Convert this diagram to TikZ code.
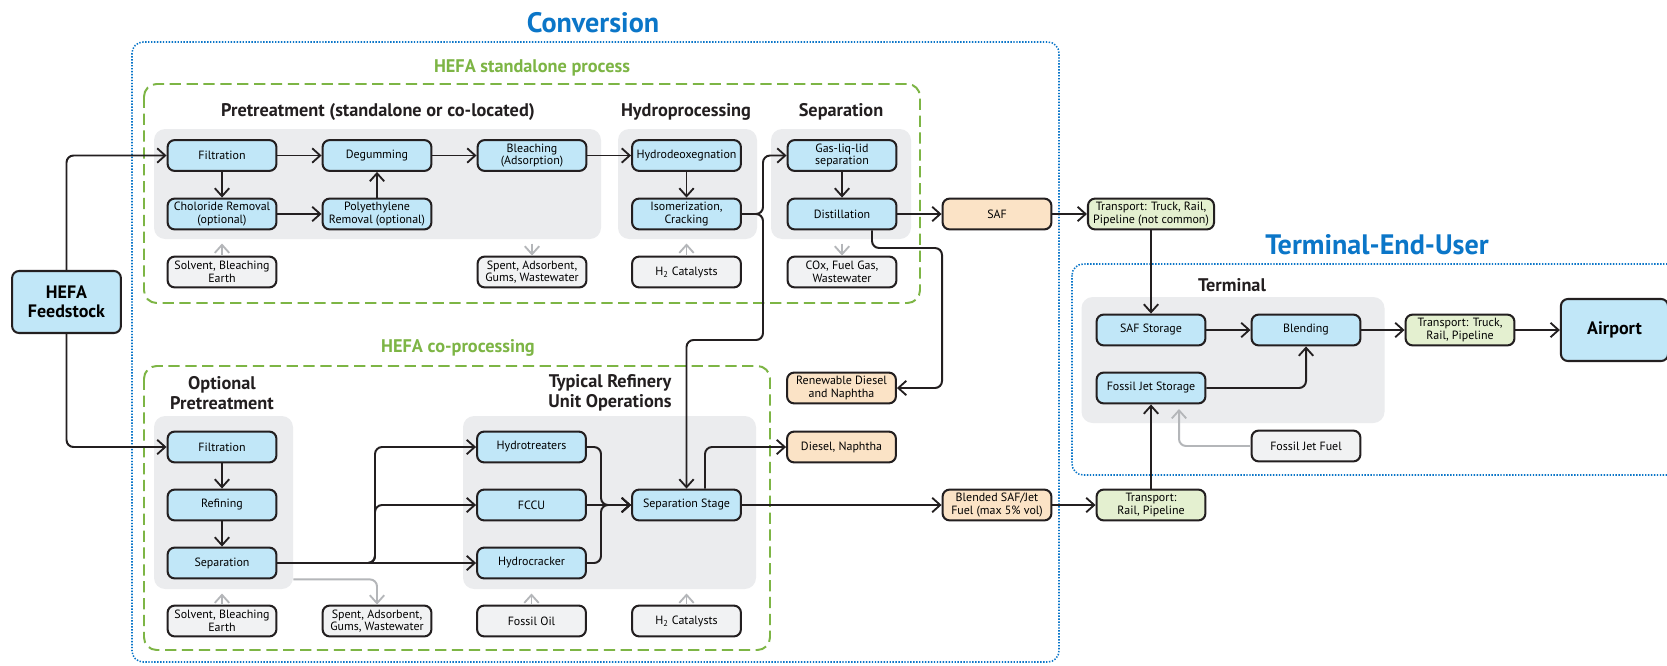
\documentclass[tikz,border=0pt]{standalone}
\usepackage{fontspec}
\setmainfont{PT Sans}
\usepackage{tikz}
\usetikzlibrary{arrows.meta, calc, fit, positioning}
\definecolor{ProcBlue}{HTML}{C1E7F8}
\definecolor{InputGray}{HTML}{F1F2F3}
\definecolor{ProductPeach}{HTML}{FBE3C6}
\definecolor{TransportGreen}{HTML}{E4F0D0}
\definecolor{PanelGray}{HTML}{EBECEE}
\definecolor{GroupGreen}{HTML}{7DB545}
\definecolor{AreaBlue}{HTML}{0B76C8}
\definecolor{LineBlack}{HTML}{231F20}
\definecolor{ArrowGray}{HTML}{B4B6B9}
\tikzset{
  procbox/.style={rectangle, rounded corners=5pt, draw=LineBlack, line width=1.45pt, fill=ProcBlue, minimum width=2.72cm, minimum height=0.77cm, inner sep=1pt, font=\fontsize{8.5}{9}\selectfont, align=center},
  inputbox/.style={procbox, fill=InputGray},
  productbox/.style={procbox, fill=ProductPeach},
  transportbox/.style={procbox, fill=TransportGreen},
  bigbox/.style={procbox, minimum height=1.55cm, font=\fontsize{12.8}{13.8}\selectfont\bfseries},
  panel/.style={rectangle, fill=PanelGray, rounded corners=8pt, inner sep=0pt},
  groupbox/.style={draw=GroupGreen, line width=1.4pt, dash pattern=on 8pt off 4pt, rounded corners=9pt},
  areabox/.style={draw=AreaBlue, line width=1.1pt, dash pattern=on 1pt off 1.1pt, rounded corners=8pt},
  stagetitle/.style={font=\fontsize{13}{14}\selectfont\bfseries, align=center, text=LineBlack},
  grouptitle/.style={font=\fontsize{13}{14}\selectfont\bfseries, text=GroupGreen},
  areatitle/.style={font=\fontsize{20}{22}\selectfont\bfseries, text=AreaBlue},
  arrow/.style={-{Straight Barb[length=2mm, width=3.6mm, line width=1.3pt]}, line width=1.4pt, draw=LineBlack},
  grayarrow/.style={arrow, draw=ArrowGray}
}

\begin{document}
\begin{tikzpicture}[x=0.025cm, y=-0.025cm]
  \useasboundingbox (0,0) rectangle (1667,665);
  \fill[white] (0,0) rectangle (1667,665);

  % Conversion area
  \draw[areabox] (132,42) rectangle (1059,662);
  \node[areatitle] (convtitle) at (593,23) {Conversion};

  % HEFA standalone process
  \draw[groupbox] (144,84) rectangle (920,303);
  \node[grouptitle] (standtitle) at (532,68) {HEFA standalone process};
  \node[panel, fit={(154,129) (601,239)}] (pretpanel) {};
  \node[panel, fit={(618,129) (757,239)}] (hydpanel) {};
  \node[panel, fit={(771,129) (911,239)}] (seppanel) {};
  \node[stagetitle] (prettitle) at (378,112) {Pretreatment (standalone or co-located)};
  \node[stagetitle] (hydtitle) at (686,112) {Hydroprocessing};
  \node[stagetitle] (septitle) at (841,112) {Separation};

  \node[procbox] (filtA) at (222,155.5) {Filtration};
  \node[procbox] (degum) at (377,155.5) {Degumming};
  \node[procbox] (bleach) at (532,155.5) {Bleaching\\(Adsorption)};
  \node[procbox] (chlor) at (222,214) {Choloride Removal\\(optional)};
  \node[procbox] (polye) at (377,214) {Polyethylene\\Removal (optional)};
  \node[inputbox] (solvA) at (222,272) {Solvent, Bleaching\\Earth};
  \node[inputbox] (spentA) at (532,272) {Spent, Adsorbent,\\Gums, Wastewater};
  \node[procbox] (hdo) at (686.5,155.5) {Hydrodeoxegnation};
  \node[procbox] (isom) at (686.5,214) {Isomerization,\\Cracking};
  \node[inputbox] (htwoA) at (686.5,272) {H\textsubscript{2} Catalysts};
  \node[procbox] (gasliq) at (842,155.5) {Gas-liq-lid\\separation};
  \node[procbox] (distil) at (842,214) {Distillation};
  \node[inputbox] (cox) at (842,272) {COx, Fuel Gas,\\Wastewater};

  % Feedstock and products
  \node[bigbox] (feed) at (66.5,302) {HEFA\\Feedstock};
  \node[productbox] (saf) at (997,214) {SAF};
  \node[transportbox, minimum width=3.15cm] (transA) at (1151,214) {Transport: Truck, Rail,\\Pipeline (not common)};
  \node[productbox] (renew) at (841.5,388) {Renewable Diesel\\and Naphtha};
  \node[productbox] (diesel) at (841.5,447) {Diesel, Naphtha};
  \node[productbox] (blended) at (997,505) {Blended SAF/Jet\\Fuel (max 5\% vol)};
  \node[transportbox] (transB) at (1151,505) {Transport:\\Rail, Pipeline};

  % HEFA co-processing
  \draw[groupbox] (144,366) rectangle (770,650);
  \node[grouptitle] (cotitle) at (458,348) {HEFA co-processing};
  \node[panel, fit={(154,416) (293,589)}] (optpanel) {};
  \node[panel, fit={(463,416) (756,589)}] (refpanel) {};
  \node[stagetitle] (opttitle) at (222,393) {Optional\\Pretreatment};
  \node[stagetitle] (reftitle) at (610,393) {Typical Refinery\\Unit Operations};

  \node[procbox] (filtB) at (222,447) {Filtration};
  \node[procbox] (refin) at (222,505) {Refining};
  \node[procbox] (sepB) at (222,563) {Separation};
  \node[inputbox] (solvB) at (222,621) {Solvent, Bleaching\\Earth};
  \node[inputbox] (spentB) at (377,621) {Spent, Adsorbent,\\Gums, Wastewater};
  \node[procbox] (hydrot) at (531.5,447) {Hydrotreaters};
  \node[procbox] (fccu) at (531.5,505) {FCCU};
  \node[procbox] (hcrack) at (531.5,563) {Hydrocracker};
  \node[procbox] (sepstage) at (686.5,505) {Separation Stage};
  \node[inputbox] (fossoil) at (531.5,621) {Fossil Oil};
  \node[inputbox] (htwoB) at (686.5,621) {H\textsubscript{2} Catalysts};

  % Terminal-End-User area
  \draw[areabox] (1072,264) rectangle (1690,475);
  \node[areatitle] (termtitle) at (1377,245) {Terminal-End-User};
  \node[panel, fit={(1081.5,297) (1384.5,423)}] (termpanel) {};
  \node[stagetitle] (terminal) at (1232,285) {Terminal};
  \node[procbox] (safst) at (1151,330) {SAF Storage};
  \node[procbox] (blend) at (1306,330) {Blending};
  \node[procbox] (fossst) at (1151,388) {Fossil Jet Storage};
  \node[inputbox] (fossfuel) at (1306,446) {Fossil Jet Fuel};
  \node[transportbox] (transC) at (1460,330) {Transport: Truck,\\Rail, Pipeline};
  \node[bigbox, minimum width=2.68cm] (airport) at (1614.5,330) {Airport};

  % Feedstock arrows
  \draw[arrow, rounded corners=5pt] (feed.north) |- (filtA.west);
  \draw[arrow, rounded corners=5pt] (feed.south) |- (filtB.west);

  % Standalone flow
  \draw[arrow] (filtA) -- (degum);
  \draw[arrow] (degum) -- (bleach);
  \draw[arrow] (bleach) -- (hdo);
  \draw[arrow] (filtA) -- (chlor);
  \draw[arrow] (chlor) -- (polye);
  \draw[arrow] (polye) -- (degum);
  \draw[arrow] (hdo) -- (isom);
  \draw[arrow] (gasliq) -- (distil);
  \draw[arrow] (distil) -- (saf);
  \draw[arrow] (saf) -- (transA);
  \coordinate (isojct) at (763,214);
  \draw[arrow, rounded corners=5pt] (isom.east) -- (isojct) |- (gasliq.west);
  \draw[arrow, rounded corners=5pt] (isom.east) -- (isojct) -- (763,340) -| (sepstage.north);
  \draw[arrow, rounded corners=5pt] ($(distil.south)+(30,0)$) -- (872,248) -- (942,248) |- (renew.east);

  % Co-processing flow
  \draw[arrow] (filtB) -- (refin);
  \draw[arrow] (refin) -- (sepB);
  \draw[arrow] (sepB) -- (hcrack);
  \draw[arrow, rounded corners=5pt] (sepB.east) -- (375,563) |- (fccu.west);
  \draw[arrow, rounded corners=5pt] (sepB.east) -- (375,563) |- (hydrot.west);
  \draw[arrow, rounded corners=5pt] (hydrot.east) -| (601,505) -- (sepstage.west);
  \draw[arrow, rounded corners=5pt] (hcrack.east) -| (601,505) -- (sepstage.west);
  \draw[arrow] (fccu) -- (sepstage);
  \draw[arrow, rounded corners=5pt] ($(sepstage.north)+(18.5,0)$) |- (diesel.west);
  \draw[arrow] (sepstage) -- (blended);
  \draw[arrow] (blended) -- (transB);

  % Terminal flow
  \draw[arrow] (transA) -- (safst);
  \draw[arrow] (transB) -- (fossst);
  \draw[arrow] (safst) -- (blend);
  \draw[arrow, rounded corners=5pt] (fossst.east) -| (blend.south);
  \draw[arrow] (blend) -- (transC);
  \draw[arrow] (transC) -- (airport);

  % Inputs and by-products
  \draw[grayarrow, shorten >=3pt] (solvA) -- (solvA |- pretpanel.south);
  \draw[grayarrow, shorten <=3pt] (spentA |- pretpanel.south) -- (spentA);
  \draw[grayarrow, shorten >=3pt] (htwoA) -- (htwoA |- hydpanel.south);
  \draw[grayarrow, shorten <=3pt] (cox |- seppanel.south) -- (cox);
  \draw[grayarrow, shorten >=3pt] (solvB) -- (solvB |- optpanel.south);
  \draw[grayarrow, rounded corners=5pt] (optpanel.east |- sepB.south) -| (spentB.north);
  \draw[grayarrow, shorten >=3pt] (fossoil) -- (fossoil |- refpanel.south);
  \draw[grayarrow, shorten >=3pt] (htwoB) -- (htwoB |- refpanel.south);
  \coordinate (fjtip) at (1179,409);
  \draw[grayarrow, rounded corners=5pt] (fossfuel.west) -| (fjtip);
\end{tikzpicture}
\end{document}
